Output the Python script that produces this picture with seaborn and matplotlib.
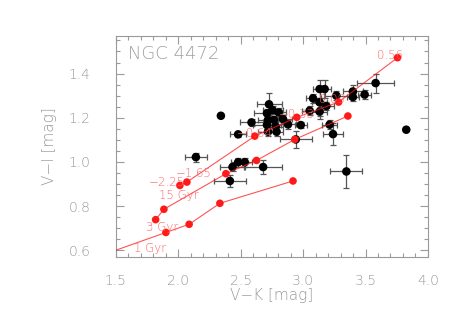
import numpy as np
import pandas as pd
import matplotlib
matplotlib.use('Agg')
import matplotlib.pyplot as plt
import seaborn as sns
from matplotlib.ticker import MultipleLocator

# NGC 4472 globular clusters: V-K, V-I with errors
vk = [2.343, 2.481, 2.588, 2.728, 2.756, 2.806, 2.712, 2.720, 2.768, 2.840,
      2.712, 2.782, 2.880, 2.720, 2.788, 2.942, 2.982, 3.053, 3.080, 3.133,
      3.173, 3.133, 3.133, 3.213, 3.240, 3.267, 3.399, 3.399, 3.493, 3.581,
      3.826, 3.347, 2.143, 2.436, 2.481, 2.534, 2.681, 2.415, 3.187]
vi = [1.209, 1.125, 1.179, 1.261, 1.235, 1.224, 1.220, 1.190, 1.190, 1.194,
      1.167, 1.160, 1.170, 1.137, 1.137, 1.102, 1.167, 1.232, 1.288, 1.330,
      1.330, 1.270, 1.228, 1.169, 1.126, 1.300, 1.319, 1.294, 1.305, 1.357,
      1.146, 0.957, 1.022, 0.977, 0.999, 0.999, 0.977, 0.914, 1.253]
vk_err = [0.0, 0.064, 0.093, 0.10, 0.08, 0.06, 0.104, 0.08, 0.07, 0.07,
          0.11, 0.06, 0.06, 0.08, 0.05, 0.13, 0.05, 0.06, 0.06, 0.05,
          0.05, 0.06, 0.06, 0.06, 0.08, 0.10, 0.08, 0.05, 0.05, 0.148,
          0.0, 0.128, 0.09, 0.10, 0.06, 0.06, 0.153, 0.128, 0.06]
vi_err = [0.0, 0.01, 0.015, 0.05, 0.02, 0.02, 0.02, 0.02, 0.02, 0.02,
          0.02, 0.02, 0.02, 0.02, 0.02, 0.04, 0.015, 0.02, 0.02, 0.04,
          0.04, 0.075, 0.02, 0.02, 0.05, 0.02, 0.03, 0.02, 0.02, 0.043,
          0.0, 0.073, 0.02, 0.02, 0.02, 0.02, 0.03, 0.027, 0.02]

# model tracks (BC03-like): 1 Gyr, 3 Gyr, 15 Gyr
vk_1gyr = [1.30, 1.903, 2.089, 2.335, 2.920]
vi_1gyr = [0.560, 0.681, 0.718, 0.813, 0.914]
vk_3gyr = [1.821, 1.887, 2.383, 2.628, 2.934, 3.359]
vi_3gyr = [0.739, 0.786, 0.947, 1.007, 1.102, 1.208]
vk_15gyr = [2.015, 2.071, 2.614, 2.950, 3.285, 3.756]
vi_15gyr = [0.894, 0.909, 1.117, 1.202, 1.271, 1.472]
feh_labels = ['\u22122.25', '\u22121.65', '\u22120.64', '\u22120.33', '0.09', '0.56']
feh_offsets = [(-13, 3), (7, 9), (0, 3), (0, 3), (-7, 3), (-7, 3)]

sns.set_style('ticks')
plt.rcParams['font.family'] = ['DejaVu Sans']
grey = '#9a9a9a'
red = '#ff1a1a'

fig = plt.figure(figsize=(4.63, 3.31), dpi=100)
ax = fig.add_axes([0.2495, 0.2236, 0.6749, 0.6676])

# data points
ax.errorbar(vk, vi, xerr=vk_err, yerr=vi_err, fmt='none', ecolor='#555555',
            elinewidth=0.9, capsize=2, capthick=0.9, zorder=2)
sns.scatterplot(x=vk, y=vi, color='black', s=38, edgecolor='none', ax=ax, zorder=3)

# model tracks
for xs, ys in [(vk_1gyr, vi_1gyr), (vk_3gyr, vi_3gyr), (vk_15gyr, vi_15gyr)]:
    sns.lineplot(x=xs, y=ys, color=red, lw=0.8, alpha=0.75, sort=False, ax=ax, zorder=4)
    sns.scatterplot(x=xs, y=ys, color=red, s=30, edgecolor='none', ax=ax, zorder=5)

tcol = '#ff6464'
lab_kw = dict(textcoords='offset pixels', ha='center', va='center', fontsize=8.5,
              color=tcol, fontweight='light', zorder=6)
for lab, x, y, off in zip(feh_labels, vk_15gyr, vi_15gyr, feh_offsets):
    ax.annotate(lab, (x, y), xytext=off, **lab_kw)
ax.annotate('15 Gyr', (vk_15gyr[0], vi_15gyr[0]), xytext=(-1, -10), **lab_kw)
ax.annotate('3 Gyr', (vk_3gyr[0], vi_3gyr[0]), xytext=(6, -7), **lab_kw)
ax.annotate('1 Gyr', (vk_1gyr[1], vi_1gyr[1]), xytext=(-16, -16), **lab_kw)

ax.text(0.04, 0.92, 'NGC 4472', transform=ax.transAxes, fontsize=13, color='#a0a0a0',
        ha='left', va='center', fontweight='light')

ax.set_xlim(1.5, 4.0)
ax.set_ylim(0.57, 1.57)
ax.xaxis.set_major_locator(MultipleLocator(0.5))
ax.xaxis.set_minor_locator(MultipleLocator(0.1))
ax.yaxis.set_major_locator(MultipleLocator(0.2))
ax.yaxis.set_minor_locator(MultipleLocator(0.05))
ax.tick_params(which='both', direction='in', top=True, right=True, colors=grey,
               labelcolor=grey, labelsize=10, width=0.8)
ax.tick_params(which='major', length=6)
ax.tick_params(which='minor', length=3)
ax.tick_params(axis='x', which='major', pad=12)
ax.tick_params(axis='y', which='major', pad=18)
for lbl in ax.get_xticklabels() + ax.get_yticklabels():
    lbl.set_fontweight('light')
for sp in ax.spines.values():
    sp.set_color(grey)
    sp.set_linewidth(0.8)
ax.set_xlabel('V\u2212K [mag]', fontsize=11, color=grey, labelpad=0, fontweight='light')
ax.set_ylabel('V\u2212I [mag]', fontsize=11, color=grey, labelpad=8, fontweight='light')

fig.savefig('out.png', dpi=100)
